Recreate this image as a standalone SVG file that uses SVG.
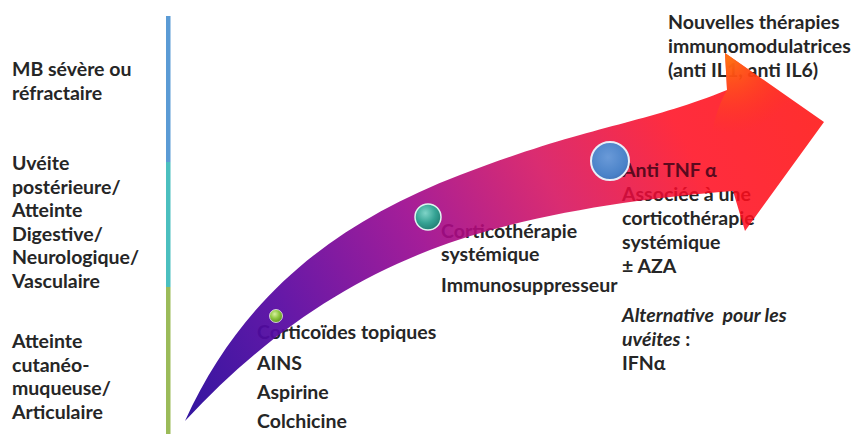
<svg xmlns="http://www.w3.org/2000/svg" width="860" height="434" viewBox="0 0 860 434">
<defs>
<style>
text{font-family:Lato,"Open Sans","Liberation Sans",sans-serif;font-weight:700;font-size:19.5px;fill:#262626}
.it{font-style:italic}
.on{fill:#5a0a1e}
</style>
<linearGradient id="ag" gradientUnits="userSpaceOnUse" x1="185" y1="421" x2="800" y2="90">
<stop offset="0" stop-color="#2a0c9c" stop-opacity="0.96"/>
<stop offset="0.2" stop-color="#5a0aa2" stop-opacity="0.94"/>
<stop offset="0.42" stop-color="#9c0a90" stop-opacity="0.92"/>
<stop offset="0.62" stop-color="#d40a5a" stop-opacity="0.86"/>
<stop offset="0.82" stop-color="#ff0a1e" stop-opacity="0.86"/>
<stop offset="1" stop-color="#ff1212" stop-opacity="0.88"/>
</linearGradient>
<radialGradient id="og" gradientUnits="userSpaceOnUse" cx="728" cy="58" r="75">
<stop offset="0" stop-color="#ff7a10" stop-opacity="0.9"/>
<stop offset="1" stop-color="#ff3a10" stop-opacity="0"/>
</radialGradient>
<radialGradient id="gG" cx="0.4" cy="0.35" r="0.7">
<stop offset="0" stop-color="#d8f0a0"/>
<stop offset="0.5" stop-color="#8dc63f"/>
<stop offset="1" stop-color="#5a8a20"/>
</radialGradient>
<radialGradient id="gT" cx="0.4" cy="0.35" r="0.7">
<stop offset="0" stop-color="#7fd4c8"/>
<stop offset="0.55" stop-color="#35a394"/>
<stop offset="1" stop-color="#207a70"/>
</radialGradient>
<radialGradient id="gB" cx="0.45" cy="0.4" r="0.7">
<stop offset="0" stop-color="#6a9ad8"/>
<stop offset="0.7" stop-color="#4a82c8"/>
<stop offset="1" stop-color="#3a6ab0"/>
</radialGradient>
</defs>
<rect width="860" height="434" fill="#ffffff"/>

<g id="scale">
<rect x="166" y="16" width="4.5" height="146" fill="#5b9bd5"/>
<rect x="166" y="162" width="4.5" height="125" fill="#4bbfbf"/>
<rect x="166" y="287" width="4.5" height="147" fill="#9bbb59"/>
</g>

<g id="label-severe">
<text x="12" y="76">MB sévère ou</text>
<text x="12" y="99.5">réfractaire</text>
</g>
<g id="label-uveite">
<text x="12" y="170">Uvéite</text>
<text x="12" y="193.5">postérieure/</text>
<text x="12" y="217">Atteinte</text>
<text x="12" y="240.5">Digestive/</text>
<text x="12" y="264">Neurologique/</text>
<text x="12" y="287.5">Vasculaire</text>
</g>
<g id="label-cutaneo">
<text x="12" y="348">Atteinte</text>
<text x="12" y="371.5">cutanéo-</text>
<text x="12" y="395">muqueuse/</text>
<text x="12" y="418.5">Articulaire</text>
</g>

<g id="step1-text">
<text x="257" y="339">Corticoïdes topiques</text>
<text x="257" y="370">AINS</text>
<text x="257" y="399">Aspirine</text>
<text x="257" y="428">Colchicine</text>
</g>
<g id="step2-text">
<text x="441" y="238">Corticothérapie</text>
<text x="441" y="261">systémique</text>
<text x="441" y="292">Immunosuppresseur</text>
</g>
<g id="step3-text">
<text x="622" y="201">Associée à une</text>
<text x="622" y="225">corticothérapie</text>
<text x="622" y="249">systémique</text>
<text x="622" y="273">± AZA</text>
</g>
<g id="alternative">
<text x="622" y="322" class="it" xml:space="preserve">Alternative  pour les</text>
<text x="622" y="346"><tspan class="it">uvéites</tspan> :</text>
<text x="622" y="370">IFNα</text>
</g>
<g id="step4-text">
<text x="668" y="29">Nouvelles thérapies</text>
<text x="668" y="53">immunomodulatrices</text>
<text x="668" y="77">(anti IL1, anti IL6)</text>
</g>

<g id="arrow">
<path d="M185,421 C240,300 330,225 460,175 C590,125 640,125 727,90 L725,53 L824,122 L745,231 L733,191 C640,198 520,215 430,250 C340,285 260,340 185,421 Z" fill="url(#ag)"/>
<path d="M727,90 L725,53 L824,122 L745,231 L733,191 C700,170 710,120 727,90 Z" fill="url(#og)"/>
</g>

<g id="step3-title">
<text x="622" y="177" class="on">Anti TNF α</text>
</g>

<g id="step1-dot">
<circle cx="276" cy="316" r="6.5" fill="url(#gG)" stroke="#ffffff" stroke-width="1" stroke-opacity="0.7"/>
</g>
<g id="step2-dot">
<circle cx="428" cy="217" r="13" fill="url(#gT)" stroke="#dff5f0" stroke-width="1.5"/>
</g>
<g id="step3-dot">
<circle cx="610" cy="161" r="19" fill="url(#gB)" stroke="#e8eef8" stroke-width="2"/>
</g>
</svg>
